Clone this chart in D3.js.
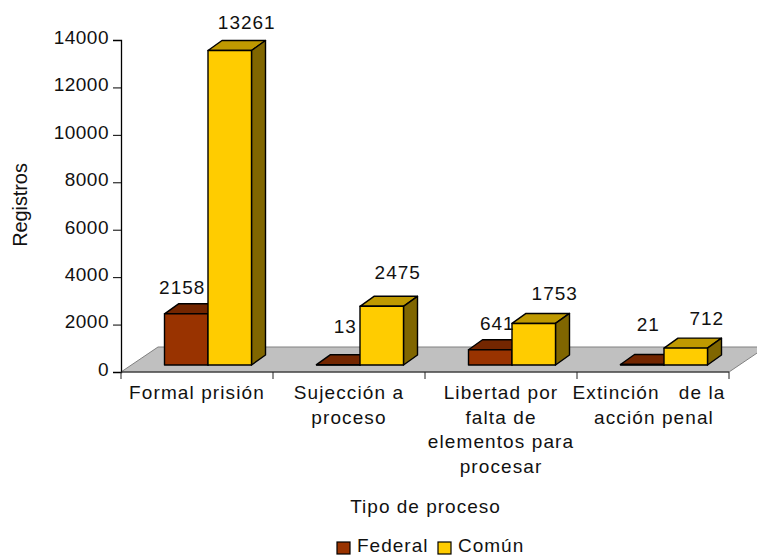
<!DOCTYPE html>
<html>
<head>
<meta charset="utf-8">
<script src="https://cdn.jsdelivr.net/npm/d3@7"></script>
<style>
  html, body { margin: 0; padding: 0; background: #fff; }
  svg { display: block; }
  text { font-family: "Liberation Sans", Arial, sans-serif; fill: #111; }
</style>
</head>
<body>
<div id="chart"></div>
<script>
// Processes recorded by jurisdiction
const categories = ["Formal prisión", "Sujección a proceso", "Libertad por falta de elementos para procesar", "Extinción de la acción penal"];
const categoryLines = [
  ["Formal prisión"],
  ["Sujección a", "proceso"],
  ["Libertad por", "falta de", "elementos para", "procesar"],
  ["Extinción   de la", "acción penal"]
];
const seriesNames = ["Federal", "Común"];
const federal = [2158, 13, 641, 21];
const comun = [13261, 2475, 1753, 712];
const yTicks = [0, 2000, 4000, 6000, 8000, 10000, 12000, 14000];

// Hand placement of the value labels relative to each bar's top centre
const federalLabelNudge = [[-4, -20], [7, -32], [7, -20], [6, -34]];
const comunLabelNudge = [[17, -22], [16, -27], [21, -23], [21, -23]];

const width = 757, height = 555;
const plot = { left: 121, right: 729, top: 40, bottom: 372 };
const floorDepth = { dx: 37, dy: -25 };
const frontShift = { dx: 11, dy: -7 };
const barDepth = { dx: 14, dy: -10 };

const colors = {
  federal: { front: "#993300", top: "#732600", side: "#4d1a00" },
  comun: { front: "#FFCC00", top: "#BF9900", side: "#806600" }
};

const svg = d3.select("#chart").append("svg").attr("width", width).attr("height", height);

const x = d3.scaleBand().domain(categories).range([plot.left, plot.right]);
const y = d3.scaleLinear().domain([0, 14000]).range([plot.bottom, plot.top]);
const barGroup = 87;
const xInner = d3.scaleBand().domain(seriesNames).range([0, barGroup]);
const groupLeft = c => x(c) + frontShift.dx + (x.bandwidth() - barGroup) / 2;

// Floor of the 3D plot
const floor = [
  [plot.left, plot.bottom],
  [plot.left + floorDepth.dx, plot.bottom + floorDepth.dy],
  [plot.right + floorDepth.dx, plot.bottom + floorDepth.dy],
  [plot.right, plot.bottom]
];
svg.append("polygon")
  .attr("points", floor.join(" "))
  .attr("fill", "#C0C0C0")
  .attr("stroke", "#808080")
  .attr("stroke-width", 1);

// Value axis
const yAxis = d3.axisLeft(y).tickValues(yTicks).tickSize(8).tickPadding(4).tickFormat(d3.format("d"));
const yG = svg.append("g").attr("transform", `translate(${plot.left},0)`).call(yAxis);
yG.select(".domain").attr("stroke", "#000").attr("stroke-width", 1.3);
yG.selectAll("line").attr("stroke", "#000").attr("stroke-width", 1);
yG.selectAll("text")
  .attr("font-size", 19).attr("letter-spacing", 0.5).attr("dy", "0.18em")
  .attr("font-family", null).attr("fill", "#111");

// Category axis
svg.append("line")
  .attr("x1", plot.left).attr("x2", plot.right)
  .attr("y1", plot.bottom).attr("y2", plot.bottom)
  .attr("stroke", "#222").attr("stroke-width", 1);
const tickEdges = categories.map(c => x(c)).concat(plot.right);
svg.selectAll(".xtick").data(tickEdges).join("line")
  .attr("x1", d => d).attr("x2", d => d)
  .attr("y1", plot.bottom).attr("y2", plot.bottom + 7)
  .attr("stroke", "#222").attr("stroke-width", 1);

categories.forEach((c, i) => {
  const t = svg.append("text")
    .attr("text-anchor", "middle")
    .attr("font-size", 19)
    .attr("letter-spacing", 1.1)
    .attr("xml:space", "preserve")
    .style("white-space", "pre");
  categoryLines[i].forEach((line, j) => {
    // The first line of the last label sits a little left of centre
    const shift = i === 3 ? (j === 0 ? -4 : 1) : 0;
    t.append("tspan")
      .attr("x", x(c) + x.bandwidth() / 2 + shift)
      .attr("y", 399 + j * 24.7)
      .text(line);
  });
});

// One 3D bar: top, side, then the front face
function drawBar(g, cx, value, palette) {
  const left = cx, right = cx + xInner.bandwidth();
  const base = y(0) + frontShift.dy;
  const top = base - (y(0) - y(value));
  const d = barDepth;
  const outline = { stroke: "#000", "stroke-width": 1.4, "stroke-linejoin": "round" };
  const face = (pts, fill) => {
    const p = g.append("polygon").attr("points", pts.join(" ")).attr("fill", fill);
    Object.entries(outline).forEach(([k, v]) => p.attr(k, v));
  };
  face([[left, top], [left + d.dx, top + d.dy], [right + d.dx, top + d.dy], [right, top]], palette.top);
  face([[right, top], [right + d.dx, top + d.dy], [right + d.dx, base + d.dy], [right, base]], palette.side);
  face([[left, top], [right, top], [right, base], [left, base]], palette.front);
  return { cx: (left + right) / 2, top };
}

const barsLayer = svg.append("g");
const labelsLayer = svg.append("g");
categories.forEach((c, i) => {
  const left = groupLeft(c);
  const f = drawBar(barsLayer, left + xInner("Federal"), federal[i], colors.federal);
  const k = drawBar(barsLayer, left + xInner("Común"), comun[i], colors.comun);
  labelsLayer.append("text").attr("x", f.cx + federalLabelNudge[i][0]).attr("y", f.top + federalLabelNudge[i][1])
    .attr("text-anchor", "middle").attr("font-size", 19).attr("letter-spacing", 1).text(federal[i]);
  labelsLayer.append("text").attr("x", k.cx + comunLabelNudge[i][0]).attr("y", k.top + comunLabelNudge[i][1])
    .attr("text-anchor", "middle").attr("font-size", 19).attr("letter-spacing", 1).text(comun[i]);
});

// Axis titles
svg.append("text")
  .attr("transform", "translate(27,205) rotate(-90)")
  .attr("text-anchor", "middle").attr("font-size", 20).attr("letter-spacing", -0.1)
  .text("Registros");
svg.append("text")
  .attr("x", 425.5).attr("y", 513)
  .attr("text-anchor", "middle").attr("font-size", 19).attr("letter-spacing", 1)
  .text("Tipo de proceso");

// Legend
const legendItems = [
  { name: seriesNames[0], sx: 337, tx: 357, fill: colors.federal.front },
  { name: seriesNames[1], sx: 438, tx: 458, fill: colors.comun.front }
];
legendItems.forEach(it => {
  svg.append("rect").attr("x", it.sx).attr("y", 542).attr("width", 13).attr("height", 12)
    .attr("fill", it.fill).attr("stroke", "#000").attr("stroke-width", 1.2);
  svg.append("text").attr("x", it.tx).attr("y", 552)
    .attr("font-size", 19).attr("letter-spacing", 1).text(it.name);
});
</script>
</body>
</html>
